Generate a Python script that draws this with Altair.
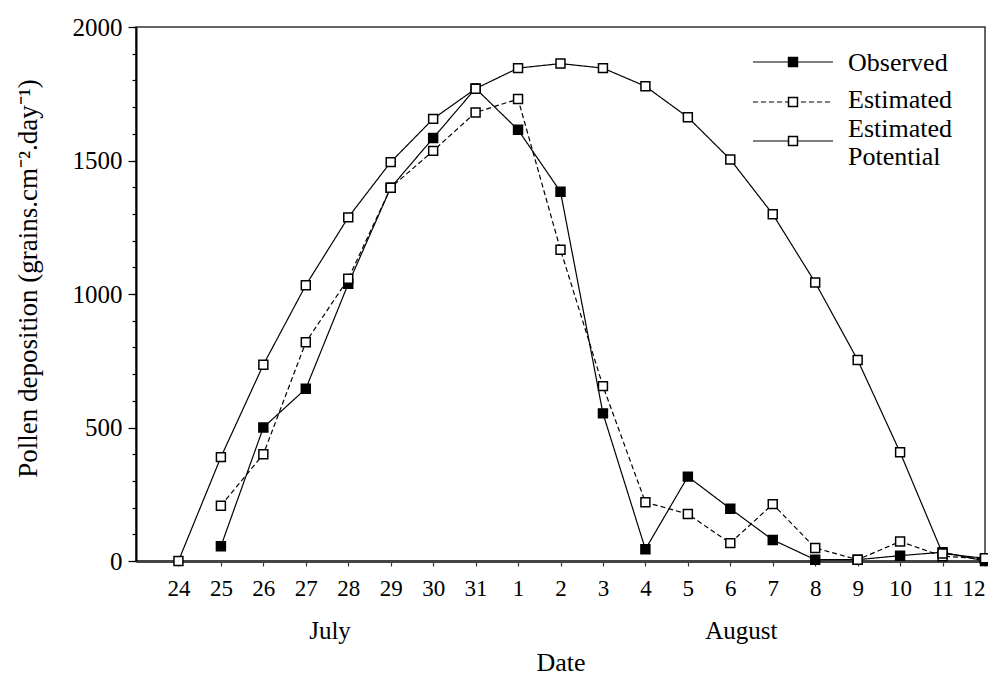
import altair as alt
import pandas as pd

# ---- data ----
days = ["24", "25", "26", "27", "28", "29", "30", "31",
        "1", "2", "3", "4", "5", "6", "7", "8", "9", "10", "11", "12"]
observed = [None, 55, 500, 645, 1038, 1398, 1584, 1770, 1615, 1383,
            553, 44, 316, 196, 79, 5, 5, 20, 33, 0]
estimated = [None, 207, 400, 819, 1057, 1398, 1536, 1680, 1730, 1166,
             655, 220, 176, 67, 213, 49, 5, 73, 18, 8]
potential = [0, 389, 735, 1033, 1287, 1494, 1656, 1769, 1846, 1863,
             1846, 1778, 1662, 1504, 1299, 1043, 753, 407, 28, 10]
series_names = ["Observed", "Estimated", "Estimated Potential"]
legend_lines = [["Observed"], ["Estimated"], ["Estimated", "Potential"]]
months = ["July", "August"]
month_pos = [3.57, 13.26]
y_major = [0, 500, 1000, 1500, 2000]
y_minor = list(range(0, 2001, 100))

# ---- styles ----
FONT = "Liberation Serif"
dash_styles = [[1, 0], [5, 3], [1, 0]]
fills = ["black", "white", "white"]

rows = []
for name, vals in zip(series_names, [observed, estimated, potential]):
    for i, v in enumerate(vals):
        if v is not None:
            rows.append({"idx": i, "day": days[i], "series": name, "value": v})
df = pd.DataFrame(rows)
month_df = pd.DataFrame({"month": months, "pos": month_pos})
one = pd.DataFrame({"k": [0]})

labels_js = "[" + ",".join(f"'{d}'" for d in days) + "]"

x_enc = alt.X(
    "idx:Q",
    scale=alt.Scale(domain=[-1, len(days) - 1], nice=False, zero=False),
    axis=alt.Axis(
        values=list(range(len(days))),
        labelExpr=f"{labels_js}[datum.value]",
        labelOverlap=False,
        title="Date",
        titleFont=FONT, titleFontSize=26, titleFontWeight="normal", titleColor="black",
        titleBaseline="alphabetic", titleY=109,
        labelFont=FONT, labelFontSize=23, labelColor="black",
        labelPadding=11, tickSize=5, tickColor="#333", tickWidth=1.2,
        domainColor="#444", domainWidth=3, grid=False,
    ),
)

y_major_enc = alt.Y(
    "value:Q",
    scale=alt.Scale(domain=[0, 2000], nice=False),
    axis=alt.Axis(
        values=y_major,
        format="d",
        labelOverlap=False,
        tickSize=8,
        orient="left",
        title="Pollen deposition (grains.cm\u207b\u00b2.day\u207b\u00b9)",
        titleFont=FONT, titleFontSize=27, titleFontWeight="normal", titleColor="black",
        titleAngle=270, titleBaseline="alphabetic", titleAlign="center",
        titleX=-100, titleY=251,
        labelFont=FONT, labelFontSize=25, labelColor="black", labelPadding=6,
        tickColor="black", tickWidth=1.2, domainColor="black", domainWidth=2, grid=False,
    ),
)

y_minor_enc = alt.Y(
    "value:Q",
    axis=alt.Axis(
        values=y_minor, orient="left", labels=False, title=None, domain=False,
        tickSize=4, tickColor="black", tickWidth=1.2, grid=False,
    ),
)

lines = alt.Chart(df).mark_line(color="black", strokeWidth=1.2).encode(
    x=x_enc,
    y=y_major_enc,
    detail="series:N",
    order="idx:Q",
    strokeDash=alt.StrokeDash(
        "series:N",
        scale=alt.Scale(domain=series_names, range=dash_styles),
        legend=None,
    ),
)

points = alt.Chart(df).mark_point(
    shape="square", filled=True, size=80, stroke="black", strokeWidth=1.5, opacity=1
).encode(
    x="idx:Q",
    y=y_minor_enc,
    fill=alt.condition(alt.datum.series == "Observed", alt.value("black"), alt.value("white")),
)

month_text = alt.Chart(month_df).mark_text(
    font=FONT, fontSize=25, baseline="alphabetic", align="center", color="black"
).encode(x="pos:Q", y=alt.value(612), text="month:N")

# ---- hand-made legend (pixel layout inside the plot area) ----
LEG_X0, LEG_X1, LEG_SYM, LEG_TXT = 617, 697, 657, 712
row_y = [35, 75, 114]
text_base = [[44], [81], [110, 138]]

legend_layers = []
for i, name in enumerate(series_names):
    legend_layers.append(
        alt.Chart(one).mark_rule(color="black", strokeWidth=1.2, strokeDash=dash_styles[i]).encode(
            x=alt.value(LEG_X0), x2=alt.value(LEG_X1), y=alt.value(row_y[i])
        )
    )
    legend_layers.append(
        alt.Chart(one).mark_point(
            shape="square", filled=True, size=80, stroke="black", strokeWidth=1.5,
            fill=fills[i], opacity=1
        ).encode(x=alt.value(LEG_SYM), y=alt.value(row_y[i]))
    )
    for line, by in zip(legend_lines[i], text_base[i]):
        legend_layers.append(
            alt.Chart(one).mark_text(
                font=FONT, fontSize=26, baseline="alphabetic", align="left", color="black"
            ).encode(x=alt.value(LEG_TXT), y=alt.value(by), text=alt.value(line))
        )

chart = alt.layer(lines, points, month_text, *legend_layers).resolve_axis(
    y="independent"
).properties(
    width=849,
    height=534,
    autosize=alt.AutoSizeParams(type="none"),
    padding={"left": 128, "top": 19, "right": 3, "bottom": 116},
    background="white",
).configure_view(stroke="#333", strokeWidth=1.5)

chart.save("out.html", embed_options={"renderer": "svg", "actions": False})
